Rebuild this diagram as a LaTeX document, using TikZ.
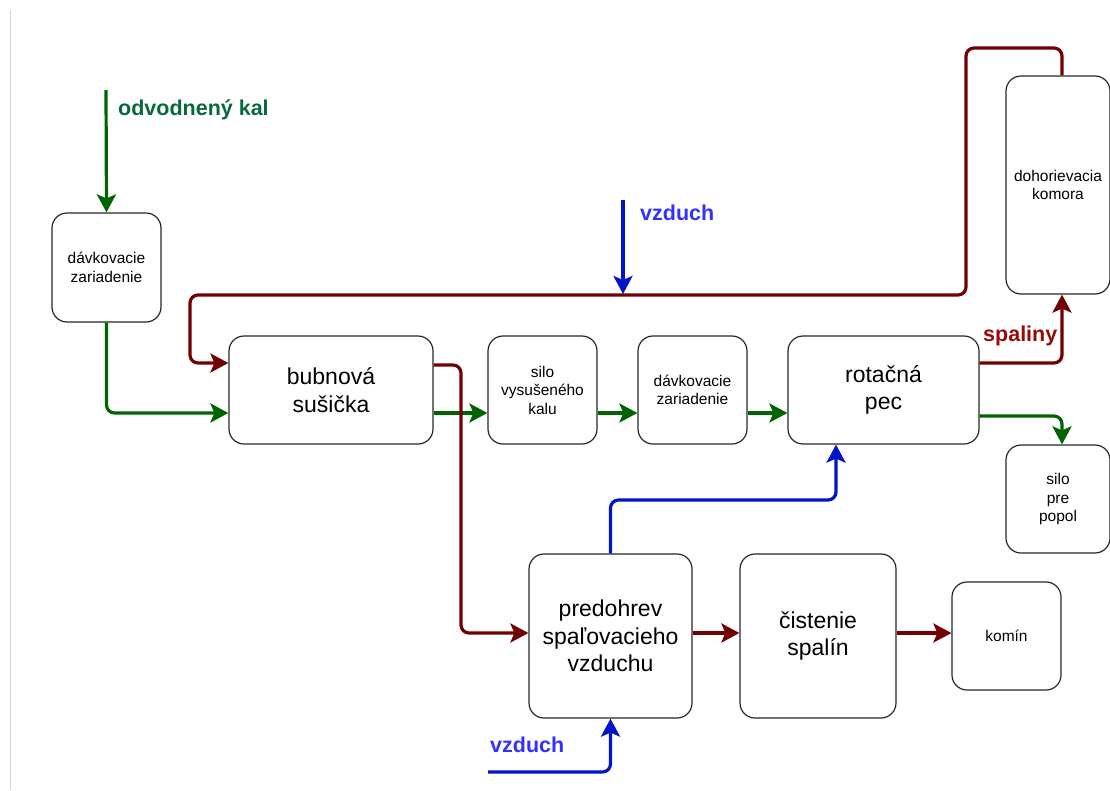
\documentclass[tikz,border=0pt]{standalone}
\usepackage{fontspec}
\setmainfont{Liberation Sans}
\usetikzlibrary{arrows.meta}
\definecolor{kalgreen}{RGB}{0,100,0}
\definecolor{kaltext}{RGB}{10,105,60}
\definecolor{flue}{RGB}{115,0,0}
\definecolor{fluetext}{RGB}{150,10,10}
\definecolor{air}{RGB}{0,20,200}
\definecolor{airtext}{RGB}{50,50,255}
\tikzstyle{unitbox}=[
    draw=black!85, line width=1.2pt,
    rounded corners=15pt,
    align=center,
    inner sep=0pt,
    font=\fontsize{15.5}{18.5}\selectfont,
]
\tikzstyle{bigunit}=[
    unitbox,
    font=\fontsize{23}{27.5}\selectfont,
]
\tikzstyle{flow}=[
    line width=3.2pt,
    rounded corners=8pt,
    -{Stealth[length=18pt,width=19pt,inset=4pt]},
]
\tikzstyle{flowlabel}=[
    anchor=west, inner sep=0pt,
    font=\fontsize{21.5}{24}\selectfont\bfseries,
]

\begin{document}
\begin{tikzpicture}[x=1pt,y=-1pt]
        \useasboundingbox (0,0) rectangle (1110,790);
        \draw[black!15, thin] (10,10) -- (10,790);
        % units
        \node (dz1) at (106.5,267.5) [unitbox, minimum width=109pt, minimum height=109pt] {dávkovacie\\zariadenie};
        \node (bs) at (331,390) [bigunit, minimum width=204pt, minimum height=108pt] {bubnová\\sušička};
        \node (svk) at (542.5,390) [unitbox, minimum width=109pt, minimum height=108pt] {silo\\vysušeného\\kalu};
        \node (dz2) at (692.5,390) [unitbox, minimum width=109pt, minimum height=108pt] {dávkovacie\\zariadenie};
        \node (rp) at (883.5,390) [bigunit, minimum width=191pt, minimum height=108pt] {rotačná\\pec};
        \node (dk) at (1058,185) [unitbox, minimum width=104pt, minimum height=218pt] {dohorievacia\\komora};
        \node (spp) at (1058,499) [unitbox, minimum width=104pt, minimum height=108pt] {silo\\pre\\popol};
        \node (psv) at (610.5,636) [bigunit, minimum width=163pt, minimum height=164pt] {predohrev\\spaľovacieho\\vzduchu};
        \node (cs) at (818,636) [bigunit, minimum width=156pt, minimum height=164pt] {čistenie\\spalín};
        \node (kom) at (1006.5,636) [unitbox, minimum width=109pt, minimum height=108pt] {komín};
        % free ends and turns
        \coordinate (kal) at (106,90);
        \coordinate (air1) at (623,200);
        \coordinate (air1end) at (623,294);
        \coordinate (air3) at (488,772);
        \coordinate (loopA) at (966,48);
        \coordinate (loopB) at (190,295);
        \coordinate (drop) at (461,500);
        \coordinate (airturn) at (700,500);
        % sludge
        \draw[flow, kalgreen] (kal) -- (dz1.north);
        \draw[flow, kalgreen] (dz1.south) |- ([yshift=-23pt]bs.west);
        \draw[flow, kalgreen] ([yshift=-23pt]bs.east) -- ([yshift=-23pt]svk.west);
        \draw[flow, kalgreen] ([yshift=-23pt]svk.east) -- ([yshift=-23pt]dz2.west);
        \draw[flow, kalgreen] ([yshift=-23pt]dz2.east) -- ([yshift=-23pt]rp.west);
        \draw[flow, kalgreen] ([yshift=-26pt]rp.east) -| ([xshift=4pt]spp.north);
        % flue gas
        \draw[flow, flue] ([yshift=27pt]rp.east) -| ([xshift=4pt]dk.south);
        \draw[flow, flue] ([xshift=4pt]dk.north) |- (loopA) |- (loopB) |- ([yshift=27pt]bs.west);
        \draw[flow, flue] ([yshift=25pt]bs.east) -| (drop) |- ([yshift=3pt]psv.west);
        \draw[flow, flue] ([yshift=3pt]psv.east) -- ([yshift=3pt]cs.west);
        \draw[flow, flue] ([yshift=3pt]cs.east) -- ([yshift=3pt]kom.west);
        % air
        \draw[flow, air] (air1) -- (air1end);
        \draw[flow, air] (psv.north) |- (airturn) -| ([xshift=-47.5pt]rp.south);
        \draw[flow, air] (air3) -| (psv.south);
        % labels
        \node (kallabel) at (118,110) [flowlabel, kaltext] {odvodnený kal};
        \node (airlabel1) at (640,213) [flowlabel, airtext] {vzduch};
        \node (fluelabel) at (983,336) [flowlabel, fluetext] {spaliny};
        \node (airlabel2) at (490,745) [flowlabel, airtext] {vzduch};
    \end{tikzpicture}
\end{document}
